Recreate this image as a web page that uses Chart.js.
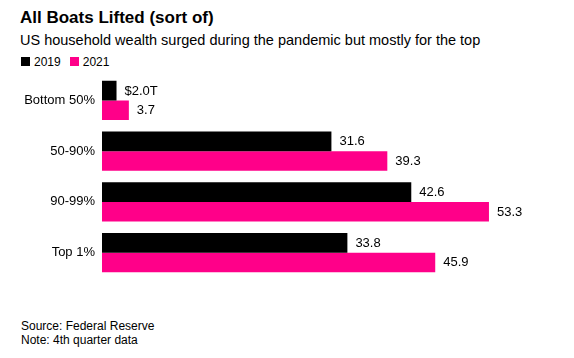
<!DOCTYPE html>
<html>
<head>
<meta charset="utf-8">
<script src="https://cdn.jsdelivr.net/npm/chart.js@4/dist/chart.umd.min.js"></script>
<style>
  html, body { margin: 0; padding: 0; background: #fff; }
  body { width: 574px; height: 358px; position: relative; overflow: hidden; font-family: "Liberation Sans", Arial, sans-serif; color: #000; }
  .t { position: absolute; left: 20px; line-height: 1; white-space: nowrap; }
  #title { top: 8.6px; font-size: 17px; font-weight: bold; }
  #subtitle { top: 32.7px; font-size: 14.5px; }
  #legend { top: 55.8px; font-size: 12px; left: 21px; }
  #legend .sw { display: inline-block; width: 9px; height: 9px; vertical-align: 0px; margin-right: 4px; }
  #legend .it { margin-right: 9px; }
  #source { top: 320.3px; font-size: 12px; left: 21px; }
  #note { top: 333.8px; font-size: 12px; left: 21px; }
  #wrap { position: absolute; left: 0; top: 72px; width: 574px; height: 210px; }
  #c { display: block; }
</style>
</head>
<body>
<div class="t" id="title">All Boats Lifted (sort of)</div>
<div class="t" id="subtitle">US household wealth surged during the pandemic but mostly for the top</div>
<div class="t" id="legend"></div>
<div class="t" id="source">Source: Federal Reserve</div>
<div class="t" id="note">Note: 4th quarter data</div>
<div id="wrap"><canvas id="c" width="574" height="210"></canvas></div>
<script>
const categories = ["Bottom 50%", "50-90%", "90-99%", "Top 1%"];
const seriesNames = ["2019", "2021"];
const values2019 = [2.0, 31.6, 42.6, 33.8];
const values2021 = [3.7, 39.3, 53.3, 45.9];
const colors = ["#000000", "#ff0089"];

const legend = document.getElementById("legend");
seriesNames.forEach((n, i) => {
  const s = document.createElement("span");
  s.className = "it";
  s.innerHTML = '<span class="sw" style="background:' + colors[i] + '"></span>' + n;
  legend.appendChild(s);
});

const valueLabels = {
  id: "valueLabels",
  afterDatasetsDraw(chart) {
    const ctx = chart.ctx;
    ctx.save();
    ctx.font = "13px 'Liberation Sans', Arial, sans-serif";
    ctx.fillStyle = "#000";
    ctx.textBaseline = "middle";
    ctx.textAlign = "left";
    chart.data.datasets.forEach((ds, di) => {
      const meta = chart.getDatasetMeta(di);
      meta.data.forEach((bar, i) => {
        let txt = ds.data[i].toFixed(1);
        if (di === 0 && i === 0) txt = "$" + txt + "T";
        ctx.fillText(txt, bar.x + 8, bar.y + 0.5);
      });
    });
    ctx.restore();
  }
};

new Chart(document.getElementById("c"), {
  type: "bar",
  data: {
    labels: categories,
    datasets: [
      { label: seriesNames[0], data: values2019, backgroundColor: colors[0] },
      { label: seriesNames[1], data: values2021, backgroundColor: colors[1] }
    ]
  },
  options: {
    indexAxis: "y",
    responsive: false,
    animation: false,
    maintainAspectRatio: false,
    devicePixelRatio: 1,
    layout: { padding: { top: 3, bottom: 4, right: 36.4, left: 0 } },
    datasets: { bar: { categoryPercentage: 0.77, barPercentage: 1.0 } },
    plugins: { legend: { display: false }, tooltip: { enabled: false } },
    scales: {
      x: { display: false, min: 0, max: 60 },
      y: {
        grid: { display: false, drawTicks: false },
        border: { display: false },
        ticks: { color: "#000", padding: 7, font: { family: "'Liberation Sans', Arial, sans-serif", size: 13 } },
        afterFit(scale) { scale.width = 102; scale.paddingTop = 0; scale.paddingBottom = 0; }
      }
    }
  },
  plugins: [valueLabels]
});
</script>
</body>
</html>
